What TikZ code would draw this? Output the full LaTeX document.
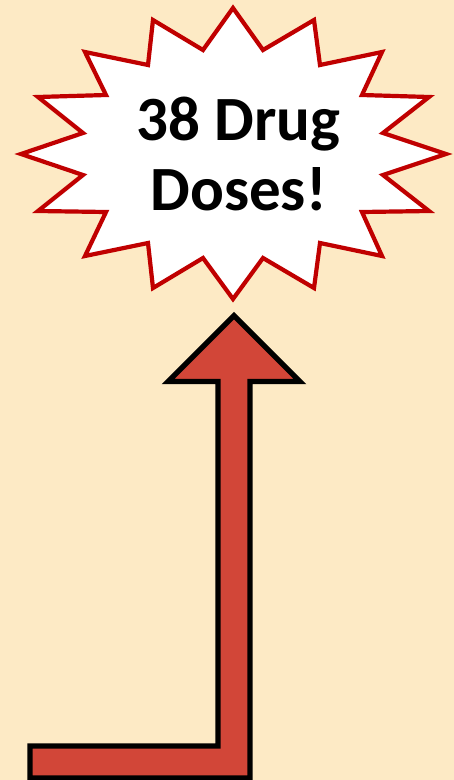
\documentclass[tikz,border=0pt]{standalone}
\usepackage{fontspec}
\setmainfont{Carlito}
\definecolor{bg}{HTML}{FDEAC5}
\definecolor{starred}{HTML}{C00000}
\definecolor{arrowred}{HTML}{D24638}
\begin{document}
\begin{tikzpicture}[x=1pt,y=-1pt,
  burst/.style={draw=starred,fill=white,line width=4.2pt,line join=miter},
  bigarrow/.style={draw=black,fill=arrowred,line width=5.3pt,line join=miter},
  label/.style={font=\fontsize{63}{70}\selectfont\bfseries,anchor=base,inner sep=0pt}]
\useasboundingbox (0,0) rectangle (454,780);
\fill[bg] (0,0) rectangle (454,780);
% starburst
\draw[burst] (233,8) -- (263,50) -- (314,20) -- (320,65) -- (382,52) -- (362,95)
  -- (429,97) -- (383,133) -- (446,154) -- (383,175) -- (429,211) -- (362,212)
  -- (382,256) -- (320,243) -- (314,288) -- (263,258) -- (233,299) -- (203,258)
  -- (153,288) -- (148,243) -- (85,256) -- (106,212) -- (38,211) -- (83,175)
  -- (21,154) -- (83,133) -- (38,97) -- (106,95) -- (85,52) -- (148,65)
  -- (153,20) -- (203,50) -- cycle;
\node[label] (t1) at (238.5,140) {38 Drug};
\node[label] (t2) at (238.5,210) {Doses!};
% bent arrow
\draw[bigarrow] (30,746) -- (218,746) -- (218,381.5) -- (168,381.5) -- (234,315.5)
  -- (300,381.5) -- (250,381.5) -- (250,778) -- (30,778) -- cycle;
\end{tikzpicture}
\end{document}
